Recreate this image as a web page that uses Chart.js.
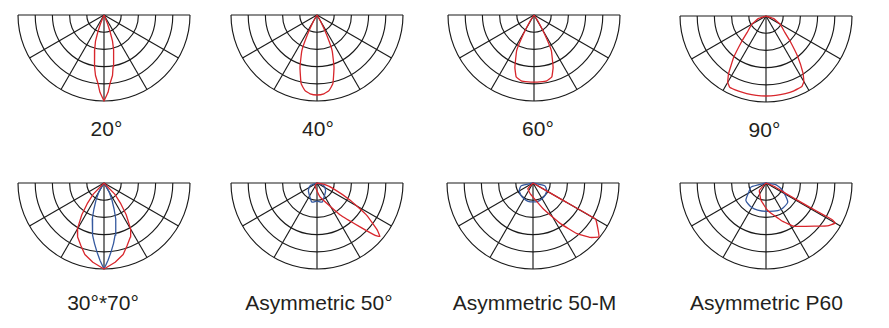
<!DOCTYPE html>
<html>
<head>
<meta charset="utf-8">
<script src="https://cdn.jsdelivr.net/npm/chart.js@4"></script>
<style>
  body { margin: 0; background: #fff; }
  #board { position: relative; width: 889px; height: 328px; overflow: hidden; }
  .panel { position: absolute; }
  .label { position: absolute; width: 240px; text-align: center; font: 21px "Liberation Sans", Arial, sans-serif; color: #231f20; line-height: 24px; white-space: nowrap; }
</style>
</head>
<body>
<div id="board"></div>
<script>
// 격자 (intensity in % of outer ring, angles in degrees from nadir, negative = left)
const ringValues = [20, 40, 60, 80, 100];
const spokeAngles = [-60, -30, 0, 30, 60];
const beamLabels = ['20°', '40°', '60°', '90°', '30°*70°', 'Asymmetric 50°', 'Asymmetric 50-M', 'Asymmetric P60'];

// 20°
const beam20Angles = [-25, -22, -20, -18, -15, -13, -10, -8, -5, -3, 0, 3, 5, 8, 10, 13, 15, 18, 20, 22, 25];
const beam20Red = [0, 11, 21, 32, 42, 51, 61, 71, 80, 90, 100, 90, 80, 71, 61, 51, 42, 32, 21, 11, 0];
// 40°
const beam40Angles = [-33, -30, -26, -23, -18, -13, -9, -5, 0, 5, 9, 13, 18, 23, 26, 30, 33];
const beam40Red = [0, 8, 25, 45, 64, 82, 89, 92, 93, 92, 89, 82, 64, 45, 25, 8, 0];
// 60°
const beam60Angles = [-36, -33, -29, -26, -20, -16, -11, -5, 0, 5, 11, 16, 20, 26, 29, 33, 36];
const beam60Red = [0, 8, 25, 46, 65, 75, 78, 78, 78, 78, 78, 75, 65, 46, 25, 8, 0];
// 90°
const beam90Angles = [-80, -72, -60, -49, -44, -38, -33, -30, -27, -20, -14, -7, 0, 7, 14, 20, 27, 30, 33, 38, 44, 49, 60, 72, 80];
const beam90Red = [0, 9, 19, 29, 40, 61, 80, 89, 93, 93, 93, 93, 93, 93, 93, 93, 92, 88, 79, 60, 40, 29, 19, 9, 0];
// 30°*70°
const oval70Angles = [-48, -44, -39, -35, -30, -26, -20, -15, -8, 0, 8, 15, 20, 26, 30, 35, 39, 44, 48];
const oval70Red = [0, 18, 31, 45, 62, 70, 78, 86, 93, 100, 93, 86, 78, 70, 62, 45, 31, 18, 0];
const oval30Angles = [-34, -30, -25, -21, -18, -15, -12, -9, -6, -3, 0, 3, 6, 9, 12, 15, 18, 21, 25, 30, 34];
const oval30Blue = [0, 12, 22, 33, 44, 53, 62, 71, 80, 90, 100, 90, 80, 71, 62, 53, 44, 33, 22, 12, 0];
// Asymmetric 50°
const asym50RedAngles = [0, -40, -22, 13, 36, 44.5, 48, 49.6, 52, 57, 62.5, 71, 80, 0];
const asym50Red = [0, 3, 5, 17, 46, 72, 91, 96, 89, 69, 44, 20, 8, 0];
const asym50BlueAngles = [-85, -70, -50, -35, -15, 0, 15, 35, 50, 70, 85];
const asym50Blue = [0, 8, 13, 16, 23, 21, 23, 16, 13, 8, 0];
// Asymmetric 50-M
const asym50mRedAngles = [0, -42, -14, 22, 34, 41, 46.5, 50.7, 55, 60, 60, 0];
const asym50mRed = [0, 9, 13, 33, 57, 78, 92, 99, 92, 84, 41, 0];
const asym50mBlueAngles = [-88, -77, -62, -45, -30, -15, 0, 15, 30, 45, 62, 77, 88];
const asym50mBlue = [0, 14, 18, 20, 21, 22, 22, 22, 21, 20, 18, 14, 0];
// Asymmetric P60
const asymP60RedAngles = [0, -42, -16, 3.5, 22, 33, 50, 55, 60, 61, 61, 61, 62, 68, 0];
const asymP60Red = [0, 11.5, 21, 32, 47, 60, 78, 87, 93, 88, 77, 55, 28, 10, 0];
const asymP60BlueAngles = [-88, -75, -66, -49, -30, -17, 0, 23, 35, 49, 66, 80, 88];
const asymP60Blue = [0, 18, 21, 31, 33, 33, 33, 35, 35, 33.5, 21, 12, 0];

const RED = '#d8262c';
const BLUE = '#35599f';
const GRID = '#1a1a1a';
const R = 86;   // 외곽 반지름 (px)
const M = 3;    // 여백

// 패널 배치: 원점 좌표, 라벨 중심, 곡선 [각도, 값, 색, tension]
const panels = [
  { ox: 104, oy: 14.5, lx: 106.5, ly: 129, curves: [[beam20Angles, beam20Red, RED, 0]] },
  { ox: 316.5, oy: 14.5, lx: 318, ly: 128.5, curves: [[beam40Angles, beam40Red, RED, 0.12]] },
  { ox: 533.5, oy: 14.5, lx: 538, ly: 128.5, curves: [[beam60Angles, beam60Red, RED, 0.08]] },
  { ox: 765.5, oy: 15.5, lx: 764.5, ly: 130, curves: [[beam90Angles, beam90Red, RED, 0.08]] },
  { ox: 104, oy: 182.5, lx: 103, ly: 302.5, curves: [[oval70Angles, oval70Red, RED, 0], [oval30Angles, oval30Blue, BLUE, 0]] },
  { ox: 316.5, oy: 182.5, lx: 319, ly: 302.5, curves: [[asym50RedAngles, asym50Red, RED, 0.1], [asym50BlueAngles, asym50Blue, BLUE, 0.2]] },
  { ox: 533, oy: 182.5, lx: 534.5, ly: 302.5, curves: [[asym50mRedAngles, asym50mRed, RED, 0.08], [asym50mBlueAngles, asym50mBlue, BLUE, 0.2]] },
  { ox: 765.5, oy: 182.5, lx: 766.5, ly: 302.5, curves: [[asymP60RedAngles, asymP60Red, RED, 0.1], [asymP60BlueAngles, asymP60Blue, BLUE, 0.2]] }
];

// 극좌표 -> 직교좌표 (값 단위 그대로)
function toPoints(angles, values) {
  return angles.map((a, i) => {
    const t = a * Math.PI / 180;
    return { x: values[i] * Math.sin(t), y: -values[i] * Math.cos(t) };
  });
}

// 반원 격자 플러그인
const polarGrid = {
  id: 'polarGrid',
  beforeDatasetsDraw(chart) {
    const { ctx, scales: { x, y } } = chart;
    const cx = x.getPixelForValue(0);
    const cy = y.getPixelForValue(0);
    ctx.save();
    ctx.strokeStyle = GRID;
    ctx.lineWidth = 1.15;
    ringValues.forEach(v => {
      const r = x.getPixelForValue(v) - cx;
      ctx.beginPath();
      ctx.arc(cx, cy, r, 0, Math.PI);
      ctx.stroke();
    });
    const outer = ringValues[ringValues.length - 1];
    spokeAngles.forEach(a => {
      const t = a * Math.PI / 180;
      ctx.beginPath();
      ctx.moveTo(cx, cy);
      ctx.lineTo(x.getPixelForValue(outer * Math.sin(t)), y.getPixelForValue(-outer * Math.cos(t)));
      ctx.stroke();
    });
    ctx.beginPath();
    ctx.moveTo(x.getPixelForValue(-outer), cy);
    ctx.lineTo(x.getPixelForValue(outer), cy);
    ctx.stroke();
    ctx.restore();
  }
};

const board = document.getElementById('board');
const span = (R + M) / R * 100;

panels.forEach((p, idx) => {
  const wrap = document.createElement('div');
  wrap.className = 'panel';
  wrap.style.left = (p.ox - R - M) + 'px';
  wrap.style.top = (p.oy - M) + 'px';
  const canvas = document.createElement('canvas');
  canvas.width = 2 * (R + M);
  canvas.height = R + 2 * M;
  wrap.appendChild(canvas);
  board.appendChild(wrap);

  new Chart(canvas.getContext('2d'), {
    type: 'scatter',
    data: {
      datasets: p.curves.map(([angles, values, color, tension]) => ({
        data: toPoints(angles, values),
        showLine: true,
        borderColor: color,
        borderWidth: 1.3,
        borderJoinStyle: 'round',
        pointRadius: 0,
        tension: tension,
        fill: false
      }))
    },
    options: {
      responsive: false,
      animation: false,
      layout: { padding: 0 },
      scales: {
        x: { type: 'linear', display: false, min: -span, max: span },
        y: { type: 'linear', display: false, min: -span, max: M / R * 100 }
      },
      plugins: { legend: { display: false }, tooltip: { enabled: false } }
    },
    plugins: [polarGrid]
  });

  const label = document.createElement('div');
  label.className = 'label';
  label.textContent = beamLabels[idx];
  label.style.left = (p.lx - 120) + 'px';
  label.style.top = (p.ly - 12) + 'px';
  board.appendChild(label);
});
</script>
</body>
</html>
